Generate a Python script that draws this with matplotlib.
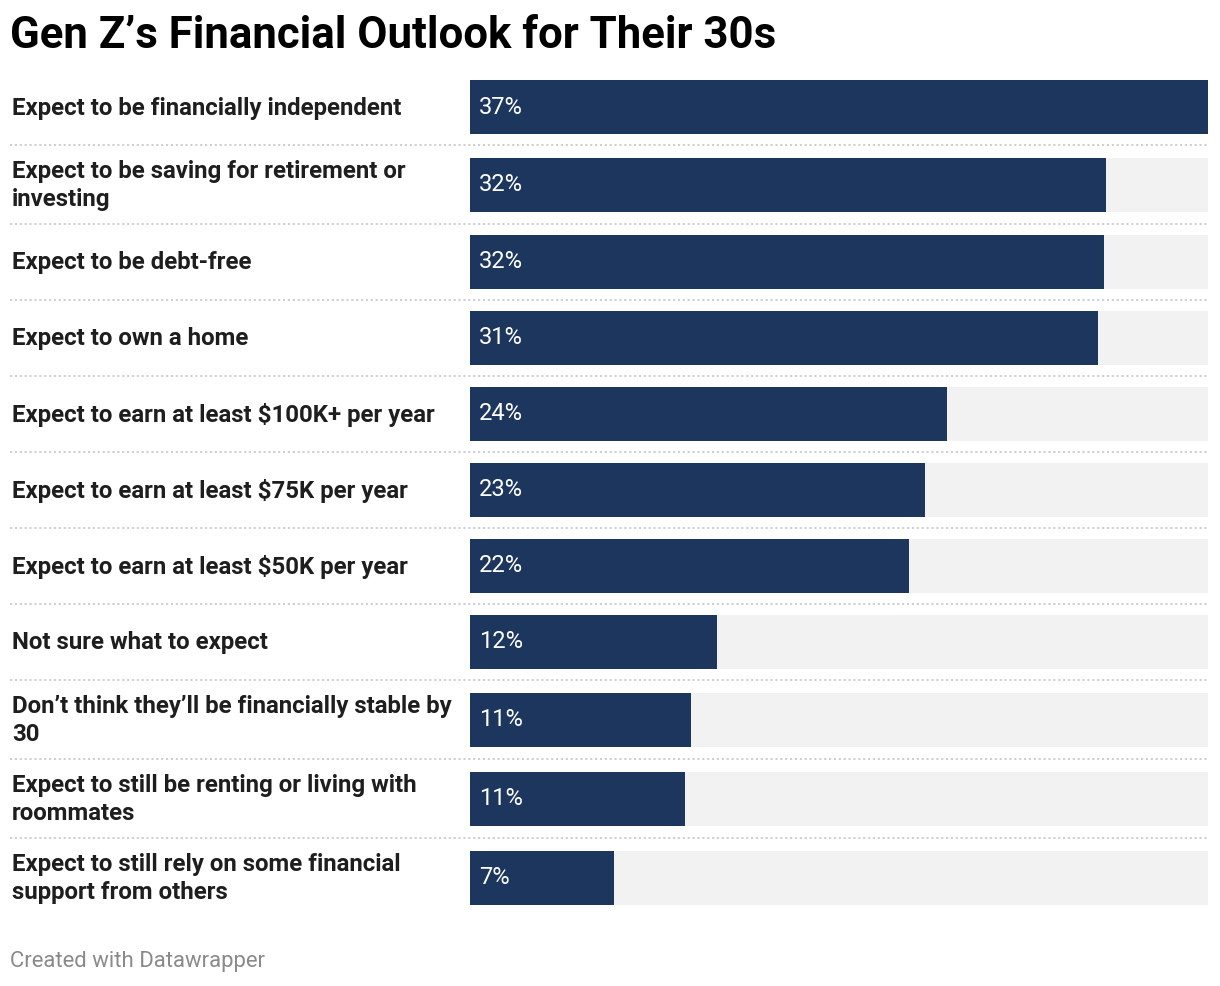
import matplotlib
matplotlib.use("Agg")
import matplotlib.pyplot as plt
import matplotlib.transforms as mtrans

categories = [
    "Expect to be financially independent",
    "Expect to be saving for retirement or\ninvesting",
    "Expect to be debt-free",
    "Expect to own a home",
    "Expect to earn at least $100K+ per year",
    "Expect to earn at least $75K per year",
    "Expect to earn at least $50K per year",
    "Not sure what to expect",
    "Don\u2019t think they\u2019ll be financially stable by\n30",
    "Expect to still be renting or living with\nroommates",
    "Expect to still rely on some financial\nsupport from others",
]
values = [37.0, 31.9, 31.8, 31.5, 23.9, 22.8, 22.0, 12.4, 11.1, 10.8, 7.2]
value_labels = ["37%", "32%", "32%", "31%", "24%", "23%", "22%", "12%", "11%", "11%", "7%"]

title = "Gen Z\u2019s Financial Outlook for Their 30s"
footer = "Created with Datawrapper"

BAR = "#1c365d"
TRACK = "#f2f2f2"
TEXT = "#1e1e1e"

W, H = 1220, 986
fig = plt.figure(figsize=(W / 100, H / 100), dpi=100)
fig.patch.set_facecolor("white")

# row layout (pixel units)
row_h = [76 + 3 * c.count("\n") for c in categories]
total = sum(row_h)
top_px = 69
centers = []
acc = 0
for h in row_h:
    centers.append(acc + h / 2)
    acc += h
bounds = []
acc = 0
for h in row_h[:-1]:
    acc += h
    bounds.append(acc)

ax_left, ax_right = 470, 1208
ax = fig.add_axes([ax_left / W, (H - top_px - total) / H, (ax_right - ax_left) / W, total / H])
ax.set_xlim(0, max(values))
ax.set_ylim(total, 0)
ax.axis("off")

ax.barh(centers, [max(values)] * len(values), height=54, color=TRACK, zorder=1)
ax.barh(centers, values, height=54, color=BAR, zorder=2)

for yc, lab in zip(centers, value_labels):
    ax.annotate(lab, xy=(0, yc), xytext=(9, 0), textcoords="offset pixels",
                va="center", ha="left", color="white", fontsize=17,
                family="Roboto", zorder=3)

blend = mtrans.blended_transform_factory(fig.transFigure, ax.transData)
for b in bounds:
    ax.plot([10 / W, ax_right / W], [b, b], transform=blend, clip_on=False,
            color="#cccccc", linewidth=1.3, linestyle=(0, (1.2, 1.5)), zorder=0)

for yc, cat in zip(centers, categories):
    ax.text(12 / W, yc + 1, cat, transform=blend, va="center", ha="left",
            fontsize=17.25, fontweight="bold", family="Roboto", color=TEXT,
            linespacing=1.25)

fig.text(10 / W, 1 - 36 / H, title, fontsize=31.5, fontweight="bold",
         family="Roboto", color="#000000", va="center", ha="left")
fig.text(10 / W, 1 - 961 / H, footer, fontsize=15.9, family="Roboto",
         color="#8a8a8a", va="center", ha="left")

fig.savefig("out.png", dpi=100, facecolor="white")
